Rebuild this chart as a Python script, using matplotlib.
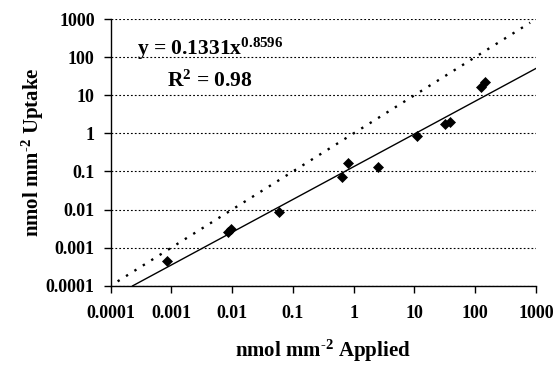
import matplotlib
matplotlib.use("Agg")
import matplotlib.pyplot as plt
from matplotlib.ticker import FixedLocator, FixedFormatter, NullLocator
import numpy as np

# ---- data ----
applied = [0.00085, 0.0084, 0.0094, 0.060, 0.65, 0.81, 2.54, 10.9, 31.8, 38.5, 123, 145]
uptake = [0.00045, 0.0026, 0.0030, 0.0084, 0.073, 0.163, 0.133, 0.86, 1.75, 1.94, 16.7, 22.6]
fit_coef = 0.1331
fit_exp = 0.8596
fit_x = [0.00023, 1000]
ref_x = [0.00013, 800]          # 1:1 line
tick_vals = [0.0001, 0.001, 0.01, 0.1, 1, 10, 100, 1000]
tick_labels = ["0.0001", "0.001", "0.01", "0.1", "1", "10", "100", "1000"]
eq_text = "y = 0.1331x$^{0.8596}$"
r2_text = "R$^{2}$ = 0.98"
xlabel = r"nmol mm$^{\text{-2}}$ Applied"
ylabel = r"nmol mm$^{\text{-2}}$ Uptake"

plt.rcParams["font.family"] = ["Liberation Serif", "DejaVu Serif"]
plt.rcParams["font.weight"] = "bold"
plt.rcParams["mathtext.fontset"] = "custom"
plt.rcParams["mathtext.rm"] = "Liberation Serif:bold"
plt.rcParams["mathtext.it"] = "Liberation Serif:bold"
plt.rcParams["mathtext.bf"] = "Liberation Serif:bold"
plt.rcParams["mathtext.default"] = "rm"

W, H = 553, 365
fig = plt.figure(figsize=(W / 100, H / 100), dpi=100)
L, R, T, B = 110.7, 536.0, 19.0, 285.7
ax = fig.add_axes([L / W, 1 - B / H, (R - L) / W, (B - T) / H])
ax.set_xscale("log")
ax.set_yscale("log")
ax.set_xlim(tick_vals[0], tick_vals[-1])
ax.set_ylim(tick_vals[0], tick_vals[-1])

# horizontal gridlines
for v in tick_vals:
    ax.axhline(v, color="black", lw=0.8, ls=(0, (1.6, 1.9)), zorder=1)

# 1:1 dotted line
ax.plot(ref_x, ref_x, color="black", lw=1.7, ls=(0, (1, 3.2)), zorder=2)

# fitted power law
fx = np.array(fit_x)
ax.plot(fx, fit_coef * fx ** fit_exp, color="black", lw=1.0, zorder=3)

# data points
ax.plot(applied, uptake, ls="none", marker="D", ms=4.6, mew=0.5, color="black", zorder=4)

for s in ["top", "right"]:
    ax.spines[s].set_visible(False)
for s in ["left", "bottom"]:
    ax.spines[s].set_linewidth(1.0)

for axis in (ax.xaxis, ax.yaxis):
    axis.set_major_locator(FixedLocator(tick_vals))
    axis.set_major_formatter(FixedFormatter(tick_labels))
    axis.set_minor_locator(NullLocator())

ax.tick_params(axis="both", which="major", direction="out", length=5, width=1.0,
               labelsize=13, color="black")
ax.tick_params(axis="x", pad=9)
ax.tick_params(axis="y", pad=6.5)
for lbl in ax.get_xticklabels() + ax.get_yticklabels():
    lbl.set_fontweight("bold")

ax.set_xlabel(xlabel, fontsize=15, fontweight="bold", va="center")
ax.set_ylabel(ylabel, fontsize=15, fontweight="bold", va="center")
ax.xaxis.set_label_coords(0.5, -(351 - B) / (B - T))
ax.yaxis.set_label_coords((33 - L) / (R - L), 0.5)

fig.text(136.7 / W, 1 - 55 / H, eq_text, fontsize=15.5, fontweight="bold",
         ha="left", va="baseline")
fig.text(166.7 / W, 1 - 87 / H, r2_text, fontsize=15.5, fontweight="bold",
         ha="left", va="baseline")

fig.savefig("out.png", dpi=100)
